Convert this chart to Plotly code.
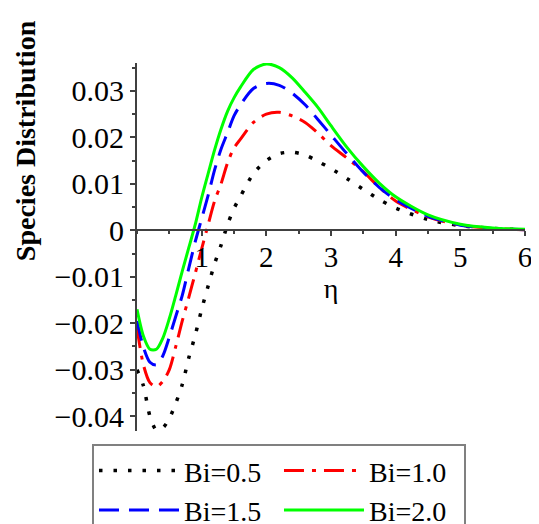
import plotly.graph_objects as go

eta = [0, 0.1, 0.2, 0.3, 0.4, 0.5, 0.6, 0.7, 0.8, 0.9, 1.0, 1.1, 1.2, 1.3, 1.4, 1.5,
       1.6, 1.8, 2.0, 2.2, 2.4, 2.6, 2.8, 3.0, 3.25, 3.5, 3.75, 4.0, 4.5, 5.0, 5.5, 6.0]

bi_05 = [-0.0300, -0.0335, -0.0400, -0.0430, -0.0425, -0.0405, -0.0372, -0.0332, -0.0275,
         -0.0226, -0.0170, -0.0120, -0.0072, -0.0032, 0.0012, 0.0047,
         0.0073, 0.0122, 0.0150, 0.0165, 0.0168, 0.0162, 0.0148, 0.0133, 0.0111,
         0.0088, 0.0066, 0.0048, 0.0023, 0.0010, 0.0004, 0.0001]

bi_10 = [-0.0210, -0.0290, -0.0328, -0.0337, -0.0325, -0.0300, -0.0250, -0.0195, -0.0145,
         -0.0093, -0.0040, 0.0012, 0.0063, 0.0100, 0.0145, 0.0177,
         0.0196, 0.0232, 0.0250, 0.0254, 0.0246, 0.0232, 0.0209, 0.0182, 0.0155,
         0.0126, 0.0092, 0.0063, 0.0029, 0.0011, 0.0004, 0.0001]

bi_15 = [-0.0195, -0.0252, -0.0284, -0.0290, -0.0270, -0.0230, -0.0185, -0.0140, -0.0082,
         -0.0025, 0.0025, 0.0075, 0.0130, 0.0175, 0.0210, 0.0246,
         0.0270, 0.0305, 0.0316, 0.0312, 0.0295, 0.0270, 0.0238, 0.0205, 0.0164,
         0.0125, 0.0092, 0.0066, 0.0030, 0.0011, 0.0004, 0.0001]

bi_20 = [-0.0170, -0.0228, -0.0256, -0.0256, -0.0232, -0.0190, -0.0140, -0.0088, -0.0038,
         0.0012, 0.0070, 0.0122, 0.0173, 0.0218, 0.0256, 0.0285,
         0.0308, 0.0346, 0.0358, 0.0350, 0.0328, 0.0297, 0.0264, 0.0225, 0.0178,
         0.0137, 0.0101, 0.0072, 0.0033, 0.0013, 0.0005, 0.0002]

labels = ['Bi=0.5', 'Bi=1.0', 'Bi=1.5', 'Bi=2.0']
x_ticks = [1, 2, 3, 4, 5, 6]
y_ticks = [-0.04, -0.03, -0.02, -0.01, 0, 0.01, 0.02, 0.03]
y_range = [-0.0432, 0.0360]

serif = 'Liberation Serif'
axis_col = '#404040'

styles = [
    dict(color='black', width=3.5, dash='3.5px,11px'),
    dict(color='#ff0000', width=3, dash='20px,8px,4px,8px'),
    dict(color='#0000ff', width=3, dash='20px,10px'),
    dict(color='#00ff00', width=3, dash='solid'),
]

fig = go.Figure()
for name, ys, st in zip(labels, [bi_05, bi_10, bi_15, bi_20], styles):
    fig.add_trace(go.Scatter(x=eta, y=ys, mode='lines', name=name,
                             line=dict(shape='spline', smoothing=0.8, **st)))

# x axis crosses at y = 0
x_pos = (0 - y_range[0]) / (y_range[1] - y_range[0])

# the page has an 8px body margin, so margins are pulled in by 8px
fig.update_layout(
    width=539, height=524,
    margin=dict(l=129, r=22, t=55, b=101, autoexpand=False),
    plot_bgcolor='white', paper_bgcolor='white',
    font=dict(family=serif, size=30, color='black'),
    xaxis=dict(
        range=[0, 6], tickvals=x_ticks, showgrid=False, zeroline=False,
        showline=True, linecolor=axis_col, linewidth=2,
        anchor='free', position=x_pos,
        ticks='outside', ticklen=5, tickcolor=axis_col, tickwidth=1.5,
        minor=dict(dtick=0.5, tick0=0, ticks='outside', ticklen=3, tickcolor=axis_col),
        tickfont=dict(family=serif, size=29), ticklabelstandoff=-4,
        title=dict(text='η', font=dict(family=serif, size=28), standoff=0),
    ),
    yaxis=dict(
        range=y_range, tickvals=y_ticks, showgrid=False, zeroline=False,
        showline=True, linecolor=axis_col, linewidth=2,
        ticks='outside', ticklen=5, tickcolor=axis_col, tickwidth=1.5,
        minor=dict(dtick=0.005, tick0=0, ticks='outside', ticklen=3, tickcolor=axis_col),
        tickfont=dict(family=serif, size=30),
    ),
    legend=dict(
        orientation='h', x=-0.116, xanchor='left', y=-0.035, yanchor='top',
        font=dict(family=serif, size=28), bordercolor='#808080', borderwidth=2,
        bgcolor='white', entrywidth=90, entrywidthmode='pixels',
        tracegroupgap=0, itemwidth=80,
    ),
    annotations=[dict(
        text='Species Distribution', textangle=-90, showarrow=False,
        xref='paper', yref='paper', x=-0.289, y=0.79,
        xanchor='center', yanchor='middle',
        font=dict(family=serif, size=28, weight='bold', color='black'),
    )],
)

fig.write_html('out.html')
